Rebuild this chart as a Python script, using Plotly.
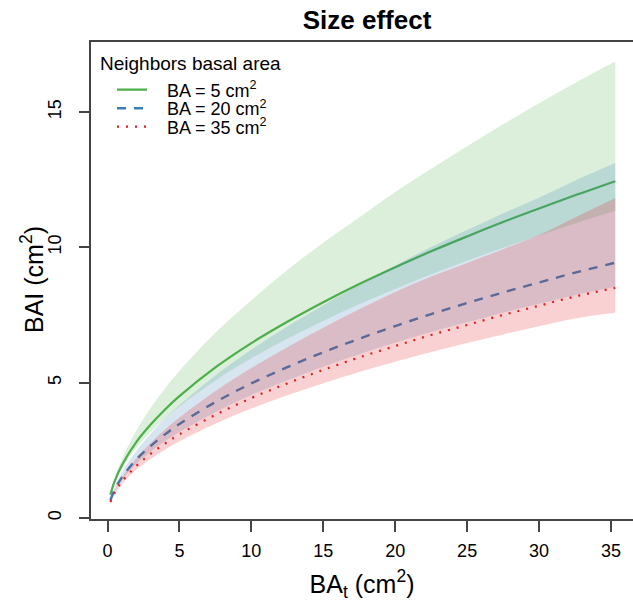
import plotly.graph_objects as go

# ---------------- data ----------------
ba_t = [0.2, 0.5, 1, 2, 3, 4, 5, 7.5, 10, 12.5, 15, 17.5, 20, 22.5, 25, 27.5, 30, 32.5, 35.3]

bai_5 = [0.86, 1.36, 1.95, 2.80, 3.45, 4.01, 4.50, 5.56, 6.46, 7.25, 7.97, 8.64, 9.26, 9.85, 10.40, 10.93, 11.43, 11.92, 12.44]
bai_5_lo = [0.82, 1.28, 1.81, 2.59, 3.17, 3.68, 4.12, 5.08, 5.90, 6.62, 7.28, 7.89, 8.46, 9.00, 9.50, 9.98, 10.43, 10.88, 11.35]
bai_5_hi = [0.91, 1.48, 2.17, 3.22, 4.06, 4.79, 5.43, 6.84, 8.04, 9.16, 10.17, 11.10, 12.04, 12.90, 13.73, 14.54, 15.32, 16.07, 16.86]

bai_20 = [0.66, 1.04, 1.50, 2.16, 2.66, 3.09, 3.47, 4.28, 4.97, 5.57, 6.12, 6.62, 7.09, 7.53, 7.94, 8.33, 8.70, 9.06, 9.43]
bai_20_lo = [0.63, 0.98, 1.40, 2.00, 2.45, 2.84, 3.18, 3.91, 4.54, 5.09, 5.59, 6.05, 6.47, 6.87, 7.23, 7.58, 7.91, 8.23, 8.54]
bai_20_hi = [0.71, 1.14, 1.68, 2.48, 3.11, 3.68, 4.16, 5.26, 6.21, 7.07, 7.86, 8.61, 9.32, 10.01, 10.64, 11.25, 11.83, 12.46, 13.11]

bai_35 = [0.59, 0.93, 1.34, 1.92, 2.37, 2.75, 3.09, 3.81, 4.43, 4.97, 5.47, 5.93, 6.35, 6.76, 7.13, 7.50, 7.84, 8.18, 8.50]
bai_35_lo = [0.56, 0.87, 1.25, 1.78, 2.18, 2.52, 2.83, 3.48, 4.04, 4.53, 4.98, 5.39, 5.77, 6.13, 6.46, 6.78, 7.08, 7.37, 7.58]
bai_35_hi = [0.63, 1.02, 1.50, 2.21, 2.77, 3.27, 3.71, 4.69, 5.54, 6.31, 7.03, 7.71, 8.35, 8.92, 9.42, 9.93, 10.45, 11.10, 11.82]

series_names = ["BA = 5 cm<sup>2</sup>", "BA = 20 cm<sup>2</sup>", "BA = 35 cm<sup>2</sup>"]
x_ticks = [0, 5, 10, 15, 20, 25, 30, 35]
y_ticks = [0, 5, 10, 15]

# ---------------- styling ----------------
FONT = "Liberation Sans, Arial, Helvetica, sans-serif"
AX = "#444444"
styles = [
    dict(color="#4daf4a", fill="rgba(77,175,74,0.2)", dash="solid", width=2.2),
    dict(color="#377eb8", fill="rgba(55,126,184,0.2)", dash="9px,8px", width=2.4),
    dict(color="#e41a1c", fill="rgba(228,26,28,0.2)", dash="2px,7px", width=2.2),
]
groups = [(bai_5, bai_5_lo, bai_5_hi), (bai_20, bai_20_lo, bai_20_hi), (bai_35, bai_35_lo, bai_35_hi)]

fig = go.Figure()
legend_ids = ["legend", "legend2", "legend3"]
for i, ((mid, lo, hi), st, name) in enumerate(zip(groups, styles, series_names)):
    fig.add_trace(go.Scatter(x=ba_t, y=lo, mode="lines", line=dict(width=0, shape="spline"),
                             showlegend=False, hoverinfo="skip"))
    fig.add_trace(go.Scatter(x=ba_t, y=hi, mode="lines", line=dict(width=0, shape="spline"),
                             fill="tonexty", fillcolor=st["fill"], showlegend=False, hoverinfo="skip"))
    fig.add_trace(go.Scatter(x=ba_t, y=mid, mode="lines", name="\u00a0\u00a0\u00a0" + name,
                             line=dict(color=st["color"], width=st["width"], dash=st["dash"], shape="spline"),
                             legend=legend_ids[i]))

# plot area geometry (pixels)
W, H = 633, 602
ML, MR, MT, MB = 91, 0, 42, 83
PW, PH = W - ML - MR, H - MT - MB

def px_x(p):
    return (p - ML) / PW

def px_y(p):
    return (H - MB - p) / PH

leg_common = dict(bgcolor="rgba(0,0,0,0)", borderwidth=0, xanchor="left", yanchor="middle",
                  font=dict(family=FONT, size=18, color="black"), itemclick=False)

fig.update_layout(
    width=W, height=H,
    margin=dict(l=ML, r=MR, t=MT, b=MB, autoexpand=False),
    paper_bgcolor="white", plot_bgcolor="white",
    title=dict(text="<b>Size effect</b>", x=367 / W, xanchor="center", xref="container",
               y=1 - 20 / H, yref="container", yanchor="middle",
               font=dict(family=FONT, size=26, color="black")),
    font=dict(family=FONT, color="black"),
    xaxis=dict(range=[-1.147, 36.53], tickvals=x_ticks, ticks="outside", ticklen=11, tickwidth=1.5,
               tickcolor=AX, showline=True, linecolor=AX, linewidth=1.5, mirror=True,
               showgrid=False, zeroline=False, tickfont=dict(family=FONT, size=18, color="black"),
               ticklabelstandoff=4,
               title=dict(text="BA<sub>t</sub> (cm<sup>2</sup>)", font=dict(family=FONT, size=25, color="black"),
                          standoff=16)),
    yaxis=dict(range=[-0.037, 17.58], tickvals=y_ticks, ticks="outside", ticklen=10, tickwidth=1.5,
               tickcolor=AX, showline=True, linecolor=AX, linewidth=1.5, mirror=False,
               showgrid=False, zeroline=False, tickangle=-90,
               tickfont=dict(family=FONT, size=18, color="black"), ticklabelstandoff=11),
    legend=dict(x=px_x(112), y=px_y(90), **leg_common),
    legend2=dict(x=px_x(112), y=px_y(108.5), **leg_common),
    legend3=dict(x=px_x(112), y=px_y(127), **leg_common),
    annotations=[
        dict(text="Neighbors basal area", xref="paper", yref="paper",
             x=px_x(98), y=px_y(63), xanchor="left", yanchor="middle", showarrow=False,
             font=dict(family=FONT, size=19, color="black")),
        dict(text="BAI (cm<sup>2</sup>)", xref="paper", yref="paper", textangle=-90,
             x=px_x(32), y=px_y(280), xanchor="center", yanchor="middle", showarrow=False,
             font=dict(family=FONT, size=25, color="black")),
    ],
)

fig.write_html("out.html", config={"displayModeBar": False},
               post_script="document.body.style.margin='0';document.body.style.overflow='hidden';")
